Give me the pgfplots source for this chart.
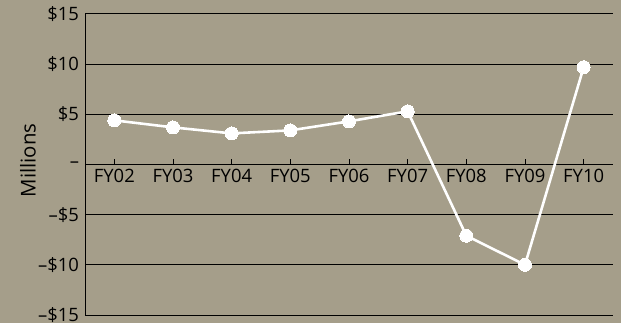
\documentclass[border=0pt]{standalone}
\usepackage{pgfplots}
\pgfplotsset{compat=1.18}
\usepackage{fontspec}
\setmainfont{Open Sans}
\definecolor{bg}{RGB}{165,158,138}
\begin{document}
\begin{tikzpicture}
\fill[bg] (0,0) rectangle (621bp,323bp);
\useasboundingbox (0,0) rectangle (621bp,323bp);
\begin{axis}[
  at={(85bp,8bp)}, anchor=south west,
  scale only axis, width=528bp, height=301bp,
  xmin=-0.5, xmax=8.5, ymin=-15, ymax=15,
  axis y line=left, axis x line=middle,
  axis line style={-, black, line width=1pt},
  xtick={0,...,8},
  xticklabels={FY02,FY03,FY04,FY05,FY06,FY07,FY08,FY09,FY10},
  xtick align=inside,
  x tick style={black, line width=0.8pt},
  major tick length=5bp,
  ytick={-15,-10,-5,0,5,10,15},
  yticklabels={--\$15,--\$10,--\$5,--,\$5,\$10,\$15},
  y tick style={draw=none},
  ymajorgrids, grid style={black, line width=1pt},
  tick label style={font=\fontsize{18.5}{20}\selectfont},
  xticklabel style={yshift=-1bp},
  yticklabel style={xshift=0bp},
  ylabel={Millions},
  ylabel style={font=\fontsize{20.5}{22}\selectfont, at={(axis description cs:0,0.5)}, anchor=center, yshift=57bp, xshift=4bp},
  clip=false,
]
\addplot[white, line width=2.6pt, mark=*, mark size=6.5bp, mark options={fill=white, draw=white, line width=0pt}]
  coordinates {(0,4.4) (1,3.7) (2,3.1) (3,3.4) (4,4.3) (5,5.3) (6,-7.1) (7,-10.0) (8,9.7)};
\end{axis}
\end{tikzpicture}
\end{document}
